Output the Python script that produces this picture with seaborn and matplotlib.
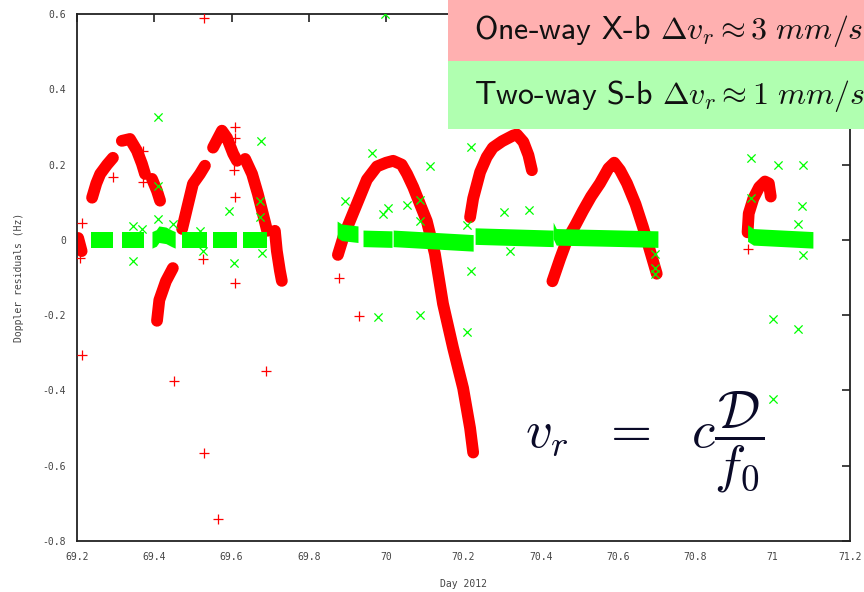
import seaborn as sns
import matplotlib as mpl
mpl.use("Agg")
import matplotlib.pyplot as plt
from matplotlib.patches import Rectangle
import numpy as np
import pandas as pd

# red (one-way X-band) residual arcs: day, Hz
red_arcs = {
    "r0": ([69.203, 69.212], [0.005, -0.03]),
    "r1": ([69.239, 69.25, 69.26, 69.278, 69.293], [0.112, 0.15, 0.175, 0.2, 0.218]),
    "r2": ([69.316, 69.337, 69.355, 69.368, 69.376], [0.263, 0.268, 0.237, 0.202, 0.175]),
    "r3": ([69.394, 69.407, 69.415], [0.162, 0.13, 0.104]),
    "r4": ([69.407, 69.413, 69.43, 69.448], [-0.215, -0.16, -0.11, -0.075]),
    "r5": ([69.472, 69.485, 69.5, 69.518, 69.531], [0.029, 0.085, 0.149, 0.175, 0.197]),
    "r6": ([69.552, 69.575, 69.588, 69.604, 69.614], [0.245, 0.29, 0.271, 0.229, 0.21]),
    "r7": ([69.635, 69.653, 69.668, 69.681, 69.692], [0.215, 0.175, 0.122, 0.069, 0.024]),
    "r8": ([69.712, 69.717, 69.725, 69.73], [0.024, -0.029, -0.082, -0.109]),
    "r9": ([69.875, 69.89, 69.906, 69.93, 69.95, 69.976, 70.0, 70.018, 70.04,
            70.054, 70.07, 70.087, 70.105, 70.126, 70.147, 70.173, 70.199,
            70.217, 70.225],
           [-0.04, 0.01, 0.05, 0.11, 0.16, 0.195, 0.205, 0.21, 0.2, 0.175,
            0.14, 0.096, 0.05, -0.037, -0.17, -0.287, -0.394, -0.5, -0.565]),
    "r10": ([70.217, 70.225, 70.243, 70.26, 70.276, 70.3, 70.328, 70.338,
             70.355, 70.368, 70.377],
            [0.06, 0.11, 0.18, 0.22, 0.245, 0.262, 0.277, 0.28, 0.26, 0.225, 0.185]),
    "r11": ([70.43, 70.45, 70.468, 70.49, 70.509, 70.53, 70.553, 70.575, 70.59,
             70.605, 70.623, 70.645, 70.664, 70.68, 70.7],
            [-0.11, -0.05, 0.0, 0.04, 0.077, 0.115, 0.15, 0.19, 0.205, 0.185,
             0.15, 0.095, 0.035, -0.02, -0.09]),
    "r12": ([70.935, 70.938, 70.95, 70.965, 70.98, 70.99, 70.995],
            [0.02, 0.07, 0.11, 0.14, 0.155, 0.15, 0.115]),
}

# green (two-way S-band) residual bands: day, band centre (Hz)
green_bands = {
    "g0": ([69.236, 69.293], [0.0, 0.0]),
    "g1": ([69.316, 69.373], [0.0, 0.0]),
    "g2": ([69.394, 69.405, 69.412, 69.43, 69.445, 69.454], [0.0, 0.005, 0.015, 0.012, 0.004, 0.0]),
    "g3": ([69.472, 69.536], [0.0, 0.0]),
    "g4": ([69.552, 69.614], [0.0, 0.0]),
    "g5": ([69.63, 69.692], [0.0, 0.0]),
    "g6": ([69.873, 69.885, 69.927], [0.028, 0.02, 0.015]),
    "g7": ([69.94, 70.015], [0.004, 0.002]),
    "g8": ([70.018, 70.225], [0.004, -0.008]),
    "g9": ([70.23, 70.432], [0.01, 0.004]),
    "g10": ([70.432, 70.44, 70.703], [0.025, 0.008, 0.002]),
    "g11": ([70.935, 70.95, 71.104], [0.018, 0.008, 0.0]),
}

# outliers
red_x = [69.213, 69.207, 69.293, 69.371, 69.371, 69.529, 69.609, 69.609, 69.606,
         69.609, 69.609, 69.526, 69.213, 69.451, 69.529, 69.565, 69.689, 69.878,
         69.93, 70.936]
red_y = [0.045, -0.048, 0.168, 0.237, 0.154, 0.59, 0.3, 0.271, 0.186, 0.114,
         -0.114, -0.05, -0.306, -0.375, -0.566, -0.742, -0.348, -0.1, -0.202, -0.024]

green_x = [69.41, 69.41, 69.41, 69.345, 69.368, 69.345, 69.448, 69.518, 69.526,
           69.593, 69.606, 69.676, 69.673, 69.673, 69.679, 69.997, 69.963, 70.113,
           70.219, 69.893, 70.005, 69.992, 70.054, 70.087, 70.087, 70.305, 70.37,
           70.209, 70.219, 69.979, 70.087, 70.209, 70.32, 70.695, 70.695, 70.695,
           70.944, 71.014, 71.078, 71.076, 71.065, 71.078, 70.944, 71.0, 71.066, 71.0]
green_y = [0.327, 0.144, 0.056, 0.037, 0.03, -0.056, 0.042, 0.024, -0.03,
           0.077, -0.061, 0.263, 0.104, 0.06, -0.035, 0.6, 0.232, 0.197,
           0.248, 0.104, 0.085, 0.069, 0.093, 0.106, 0.05, 0.074, 0.08,
           0.04, -0.082, -0.205, -0.2, -0.245, -0.03, -0.037, -0.074, -0.09,
           0.218, 0.2, 0.199, 0.09, 0.043, -0.04, 0.11, -0.21, -0.237, -0.423]

xticks = [69.2, 69.4, 69.6, 69.8, 70.0, 70.2, 70.4, 70.6, 70.8, 71.0, 71.2]
xtick_labels = ["69.2", "69.4", "69.6", "69.8", "70", "70.2", "70.4", "70.6", "70.8", "71", "71.2"]
yticks = [-0.8, -0.6, -0.4, -0.2, 0.0, 0.2, 0.4, 0.6]
ytick_labels = ["-0.8", "-0.6", "-0.4", "-0.2", "0", "0.2", "0.4", "0.6"]

band_half = 0.022  # half thickness of the green scatter band


def to_frame(d):
    rows = []
    for k, (xs, ys) in d.items():
        for x, y in zip(xs, ys):
            rows.append({"day": x, "res": y, "seg": k})
    return pd.DataFrame(rows)


sns.set_style("white")
plt.rcParams["mathtext.fontset"] = "cm"

fig = plt.figure(figsize=(8.64, 5.92), dpi=100)
ax = fig.add_axes([77 / 864, 1 - 541 / 592, 773 / 864, 527 / 592])

red_df = to_frame(red_arcs)

sns.lineplot(data=red_df, x="day", y="res", units="seg", estimator=None, sort=False,
             color="#ff0000", lw=8.5, solid_capstyle="round", ax=ax, zorder=2)
sns.scatterplot(x=red_x, y=red_y, marker="+", color="#ff0000", s=45, linewidth=0.9, ax=ax, zorder=3)
for xs, ys in green_bands.values():
    ys = np.asarray(ys)
    ax.fill_between(xs, ys - band_half, ys + band_half, color="#00ff00", lw=0, zorder=4)
sns.scatterplot(x=green_x, y=green_y, marker="x", color="#00ff00", s=35, linewidth=0.9, ax=ax, zorder=5)

ax.set_xlim(69.2, 71.2)
ax.set_ylim(-0.8, 0.6)
ax.set_xticks(xticks)
ax.set_xticklabels(xtick_labels)
ax.set_yticks(yticks)
ax.set_yticklabels(ytick_labels)
ax.tick_params(direction="in", length=6, width=1.2, top=True, right=True,
               labelsize=7, labelcolor="#444444", color="#222222", pad=8)
for lab in ax.get_xticklabels() + ax.get_yticklabels():
    lab.set_family("DejaVu Sans Mono")
for sp in ax.spines.values():
    sp.set_linewidth(1.3)
    sp.set_color("#222222")

ax.set_xlabel("Day 2012", family="DejaVu Sans Mono", fontsize=7, color="#444444", labelpad=12)
ax.set_ylabel("Doppler residuals (Hz)", family="DejaVu Sans Mono", fontsize=7, color="#444444", labelpad=13)

# overlay boxes from the slide
fig.add_artist(Rectangle((448 / 864, 1 - 61 / 592), 0.5, 61 / 592, transform=fig.transFigure,
                         facecolor="#ffb0b0", edgecolor="none", zorder=10))
fig.add_artist(Rectangle((448 / 864, 1 - 129 / 592), 0.5, 68 / 592, transform=fig.transFigure,
                         facecolor="#b0ffb0", edgecolor="none", zorder=10))
fig.text(474 / 864, 1 - 31 / 592, r"One-way X-b $\Delta v_r \approx 3\ mm/s$", family="cmss10",
         fontsize=23, color="#111111", va="center", ha="left", zorder=11)
fig.text(474 / 864, 1 - 96 / 592, r"Two-way S-b $\Delta v_r \approx 1\ mm/s$", family="cmss10",
         fontsize=23, color="#111111", va="center", ha="left", zorder=11)

fig.text(645 / 864, 1 - 442 / 592, r"$v_r\ \ =\ \ c\dfrac{\mathcal{D}}{f_0}$",
         fontsize=38, color="#0a0a28", ha="center", va="center", zorder=11)

fig.savefig("out.png", dpi=100)
